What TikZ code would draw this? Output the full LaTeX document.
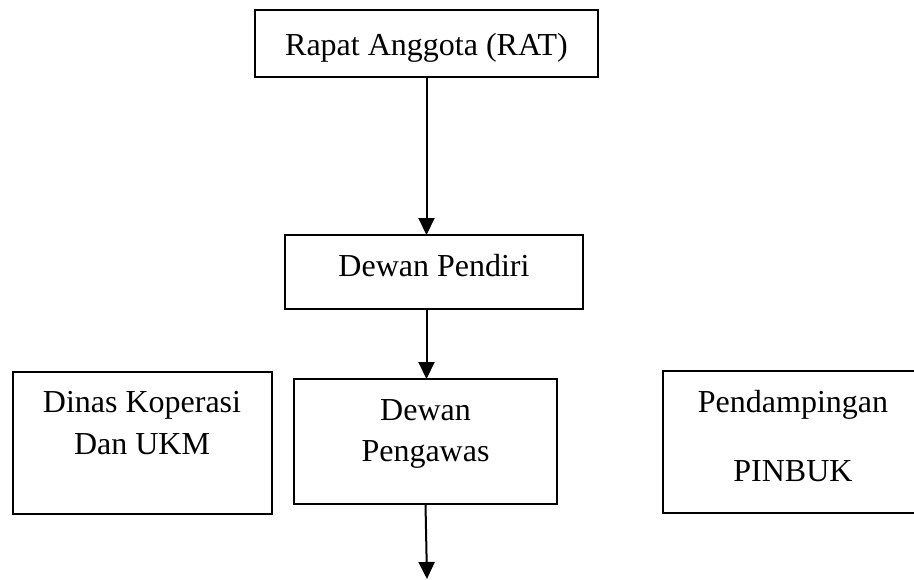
\documentclass[tikz,border=0pt]{standalone}
\usepackage{fontspec}
\setmainfont{Liberation Serif}
\usetikzlibrary{arrows.meta}
\begin{document}
\begin{tikzpicture}[x=1pt,y=-1pt,
  box/.style={draw=black,line width=2pt,fill=white,inner sep=0pt,outer sep=0pt},
  txt/.style={anchor=base,inner sep=0pt,font=\fontsize{32}{42}\selectfont},
  conn/.style={draw=black,line width=2pt,-{Triangle[width=16pt,length=17pt]}}]
\useasboundingbox (0,0) rectangle (914,579);
\clip (0,0) rectangle (914,579);
% boxes
\node[box,minimum width=343pt,minimum height=67pt] (rat) at (426.5,43.5) {};
\node[box,minimum width=298pt,minimum height=74pt] (pendiri) at (434,272) {};
\node[box,minimum width=259pt,minimum height=142pt] (dinas) at (142.3,443) {};
\node[box,minimum width=263pt,minimum height=125pt] (pengawas) at (425.5,441.5) {};
\node[box,minimum width=260pt,minimum height=142pt] (pinbuk) at (793,442) {};
% texts
\node[txt] (ratT) at (426.5,55) {Rapat Anggota (RAT)};
\node[txt] (pendiriT) at (434,276) {Dewan Pendiri};
\node[txt] (dinasT1) at (142,412) {Dinas Koperasi};
\node[txt] (dinasT2) at (142,454) {Dan UKM};
\node[txt] (pengawasT1) at (425.5,420) {Dewan};
\node[txt] (pengawasT2) at (425.5,461) {Pengawas};
\node[txt] (pinbukT1) at (793,412) {Pendampingan};
\node[txt] (pinbukT2) at (793,481) {PINBUK};
% connectors
\coordinate (bottomend) at (427,579);
\draw[conn] (rat.south) -- (rat.south |- pendiri.north);
\draw[conn] (rat.south |- pendiri.south) -- (rat.south |- pengawas.north);
\draw[conn] (pengawas.south) -- (bottomend);
\end{tikzpicture}
\end{document}
